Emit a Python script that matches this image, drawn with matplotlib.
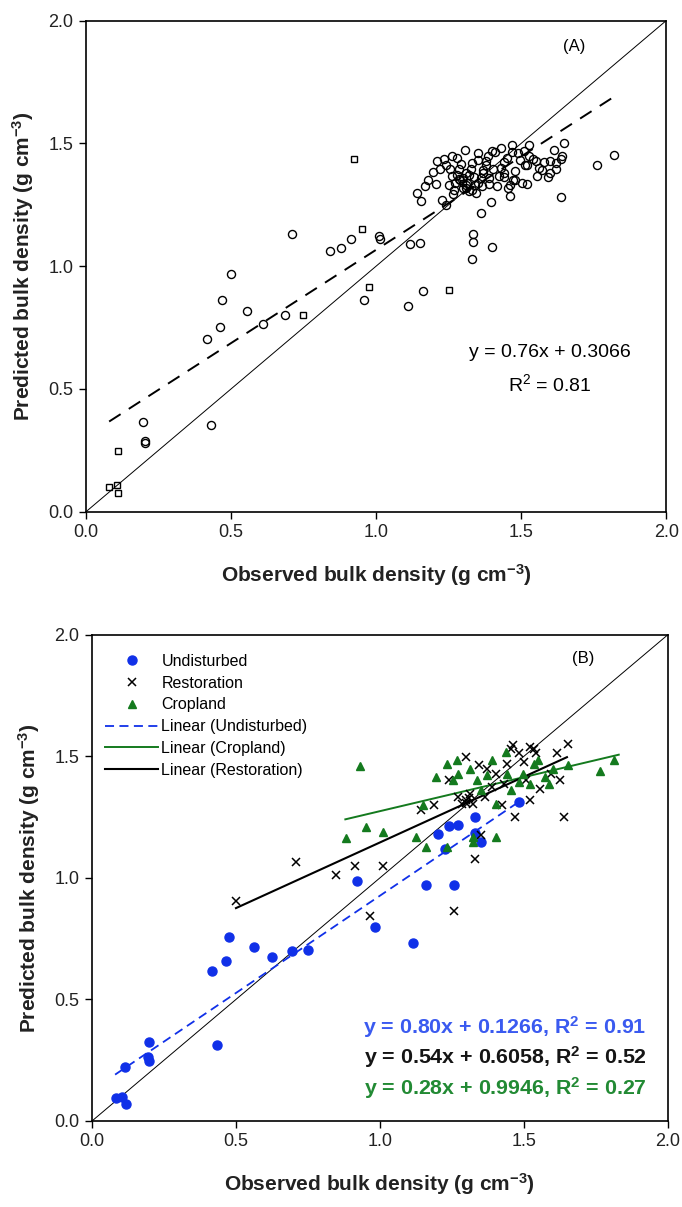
import matplotlib
matplotlib.use("Agg")
import matplotlib.pyplot as plt
import numpy as np

plt.rcParams['font.family'] = ['Liberation Sans', 'DejaVu Sans']
plt.rcParams['mathtext.default'] = 'regular'

# ---- panel A data (observed, predicted) ----
a_circ_x = [0.50, 0.47, 0.555, 0.463, 0.418, 0.611, 0.685, 0.957, 1.111, 1.163,
            0.196, 0.202, 0.205, 0.431, 0.709, 0.913, 0.842, 0.879, 1.009, 1.012,
            1.116, 1.151, 1.333, 1.334, 1.329, 1.40, 1.361, 1.397, 1.46, 1.521,
            1.638, 1.821, 1.762, 1.649, 1.612, 1.599, 1.636, 1.593, 1.554, 1.527,
            1.469, 1.43, 1.305, 1.234, 1.26, 1.22, 1.195, 1.168, 1.142, 1.155,
            1.208, 1.227, 1.24, 1.266, 1.26, 1.286, 1.312, 1.339, 1.326, 1.352,
            1.384, 1.378, 1.404, 1.423, 1.416, 1.456, 1.48, 1.495, 1.514, 1.54,
            1.58, 1.442, 1.286, 1.364, 1.345, 1.39, 1.319, 1.299, 1.273, 1.253,
            1.442, 1.501, 1.469, 1.292, 1.41, 1.527, 1.619, 1.30, 1.32, 1.35,
            1.31, 1.28, 1.33, 1.37, 1.43, 1.47,
            1.25, 1.27, 1.29, 1.31, 1.34, 1.36, 1.38, 1.45, 1.49, 1.52,
            1.55, 1.57, 1.62, 1.64, 1.48, 1.51, 1.35, 1.40, 1.44, 1.21,
            1.18, 1.24, 1.33, 1.39, 1.46, 1.56, 1.60, 1.31, 1.37, 1.28]
a_circ_y = [0.969, 0.864, 0.816, 0.751, 0.705, 0.766, 0.803, 0.861, 0.839, 0.898,
            0.367, 0.282, 0.290, 0.354, 1.129, 1.111, 1.062, 1.072, 1.121, 1.11,
            1.09, 1.096, 1.132, 1.097, 1.03, 1.076, 1.215, 1.261, 1.285, 1.333,
            1.281, 1.454, 1.412, 1.503, 1.472, 1.43, 1.437, 1.361, 1.368, 1.493,
            1.493, 1.482, 1.472, 1.437, 1.45, 1.396, 1.382, 1.326, 1.299, 1.264,
            1.333, 1.271, 1.25, 1.292, 1.368, 1.354, 1.34, 1.361, 1.396, 1.431,
            1.45, 1.41, 1.396, 1.368, 1.326, 1.319, 1.389, 1.431, 1.41, 1.437,
            1.424, 1.424, 1.396, 1.326, 1.299, 1.333, 1.306, 1.319, 1.34, 1.396,
            1.361, 1.34, 1.465, 1.417, 1.465, 1.45, 1.396, 1.36, 1.37, 1.34,
            1.33, 1.37, 1.42, 1.38, 1.40, 1.35,
            1.33, 1.31, 1.35, 1.38, 1.33, 1.36, 1.43, 1.44, 1.46, 1.41,
            1.43, 1.39, 1.42, 1.45, 1.35, 1.47, 1.46, 1.47, 1.38, 1.43,
            1.35, 1.41, 1.31, 1.36, 1.33, 1.40, 1.38, 1.32, 1.39, 1.44]
a_sq_x = [0.078, 0.107, 0.112, 0.112, 0.747, 0.975, 1.251, 0.924, 0.950, 1.30]
a_sq_y = [0.099, 0.109, 0.078, 0.249, 0.80, 0.914, 0.902, 1.437, 1.153, 1.34]
a_slope, a_icpt = 0.76, 0.3066
a_fit_x = [0.08, 1.81]

# ---- panel B data ----
und_x = [1.332, 1.273, 1.24, 1.201, 1.332, 1.352, 1.227, 1.483, 0.921, 1.161,
         1.257, 0.984, 1.116, 0.475, 0.466, 0.417, 0.561, 0.624, 0.694, 0.749,
         0.433, 0.199, 0.199, 0.195, 0.116, 0.083, 0.103, 0.119]
und_y = [1.25, 1.216, 1.212, 1.182, 1.184, 1.147, 1.12, 1.312, 0.986, 0.97,
         0.972, 0.797, 0.732, 0.756, 0.659, 0.617, 0.715, 0.673, 0.70, 0.702,
         0.311, 0.325, 0.247, 0.265, 0.22, 0.093, 0.099, 0.069]
res_x = [0.71, 0.847, 0.913, 1.011, 1.332, 1.352, 1.47, 1.64, 1.522, 1.142,
         1.188, 1.24, 1.299, 1.463, 1.522, 1.542, 1.653, 1.614, 1.627, 1.594,
         1.555, 1.509, 1.443, 1.404, 1.371, 1.345, 1.299, 1.273, 1.312, 1.286,
         1.325, 1.365, 1.424, 1.483, 1.535, 1.391, 1.43, 1.457, 1.502, 0.499,
         0.964, 1.257, 1.30, 1.31]
res_y = [1.065, 1.01, 1.051, 1.051, 1.078, 1.175, 1.25, 1.25, 1.319, 1.278,
         1.298, 1.402, 1.498, 1.546, 1.539, 1.512, 1.553, 1.512, 1.402, 1.429,
         1.367, 1.402, 1.47, 1.429, 1.45, 1.464, 1.319, 1.333, 1.347, 1.305,
         1.305, 1.333, 1.298, 1.512, 1.532, 1.374, 1.388, 1.532, 1.477, 0.907,
         0.843, 0.863, 1.31, 1.33]
crop_x = [0.93, 1.814, 1.764, 1.653, 1.601, 1.587, 1.574, 1.535, 1.496, 1.457,
          1.483, 1.437, 1.391, 1.371, 1.339, 1.312, 1.267, 1.234, 1.195, 1.254,
          1.149, 1.404, 1.404, 1.325, 1.325, 1.234, 1.162, 1.124, 1.011, 0.952,
          0.884, 1.273, 1.352, 1.548, 1.443, 1.522]
crop_y = [1.461, 1.487, 1.44, 1.464, 1.45, 1.388, 1.415, 1.47, 1.429, 1.36,
          1.395, 1.519, 1.484, 1.422, 1.402, 1.45, 1.484, 1.47, 1.415, 1.402,
          1.298, 1.305, 1.168, 1.147, 1.168, 1.127, 1.127, 1.168, 1.188, 1.209,
          1.165, 1.429, 1.36, 1.484, 1.429, 1.388]
fits = {
    'Undisturbed': (0.80, 0.1266, [0.08, 1.49]),
    'Restoration': (0.54, 0.6058, [0.50, 1.65]),
    'Cropland': (0.28, 0.9946, [0.88, 1.83]),
}
eq_texts = ['y = 0.80x + 0.1266, R$^2$ = 0.91',
            'y = 0.54x + 0.6058, R$^2$ = 0.52',
            'y = 0.28x + 0.9946, R$^2$ = 0.27']

blue = '#1030e8'
green = '#147a1e'
eq_colors = ['#3a5af0', '#151515', '#228a34']

fig = plt.figure(figsize=(6.82, 12.07), dpi=100)
axA = fig.add_axes([0.126, 0.576, 0.851, 0.407])
axB = fig.add_axes([0.135, 0.0713, 0.844, 0.4027])


def style_axes(ax):
    ax.set_xlim(0, 2)
    ax.set_ylim(0, 2)
    ticks = [0.0, 0.5, 1.0, 1.5, 2.0]
    ax.set_xticks(ticks, [f"{t:.1f}" for t in ticks])
    ax.set_yticks(ticks, [f"{t:.1f}" for t in ticks])
    ax.tick_params(direction='out', length=5, width=1, labelsize=13,
                   labelcolor='#222222', top=False, right=False, pad=4)
    for s in ax.spines.values():
        s.set_linewidth(1.2)
    ax.set_xlabel('Observed bulk density (g cm$^{-3}$)', fontsize=15,
                  fontweight='bold', labelpad=15, color='#222222')
    ax.set_ylabel('Predicted bulk density (g cm$^{-3}$)', fontsize=15,
                  fontweight='bold', labelpad=9, color='#222222')
    ax.plot([0, 2], [0, 2], color='black', lw=0.7, zorder=1)


# Panel A
style_axes(axA)
axA.plot(a_circ_x, a_circ_y, 'o', mfc='none', mec='black', ms=5.8, mew=1.0)
axA.plot(a_sq_x, a_sq_y, 's', mfc='none', mec='black', ms=4.8, mew=1.0)
fx = np.array(a_fit_x)
axA.plot(fx, a_slope * fx + a_icpt, color='black', lw=1.4, dashes=(7, 5))
axA.text(1.684, 1.896, '(A)', fontsize=12, ha='center', va='center')
axA.text(1.60, 0.648, 'y = 0.76x + 0.3066', fontsize=14, ha='center', va='center')
axA.text(1.60, 0.52, 'R$^2$ = 0.81', fontsize=14, ha='center', va='center')

# Panel B
style_axes(axB)
axB.plot(und_x, und_y, 'o', color=blue, ms=6.5, label='Undisturbed', zorder=3)
axB.plot(res_x, res_y, 'x', color='black', ms=5.5, mew=1.1, label='Restoration', zorder=3)
axB.plot(crop_x, crop_y, '^', color=green, ms=6, label='Cropland', zorder=3)
line_style = {'Undisturbed': dict(color=blue, lw=1.3, dashes=(5, 3)),
              'Cropland': dict(color=green, lw=1.4),
              'Restoration': dict(color='black', lw=1.5)}
for name in ['Undisturbed', 'Cropland', 'Restoration']:
    m, b, xr = fits[name]
    xr = np.array(xr)
    axB.plot(xr, m * xr + b, label=f'Linear ({name})', zorder=2, **line_style[name])
axB.legend(loc='upper left', bbox_to_anchor=(-0.01, 1.0), frameon=False, fontsize=11.5,
           handlelength=3.3, handletextpad=0.2, labelspacing=0.42, borderaxespad=0.8,
           borderpad=0.4)
axB.text(1.705, 1.904, '(B)', fontsize=12, ha='center', va='center')
for i, (t, c) in enumerate(zip(eq_texts, eq_colors)):
    axB.text(1.927, 0.387 - 0.1255 * i, t, color=c, fontsize=15.4, fontweight='bold',
             ha='right', va='center')

fig.savefig('out.png', dpi=100)
